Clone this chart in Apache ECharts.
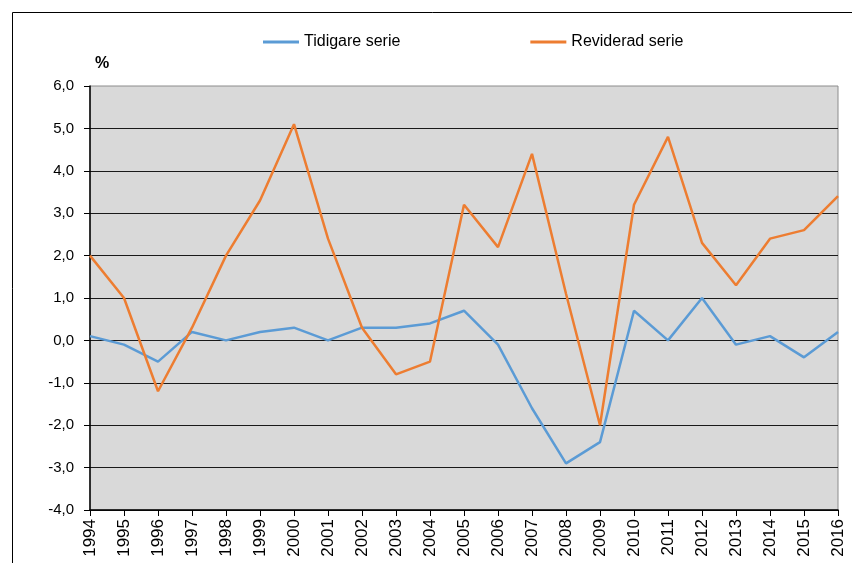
<!DOCTYPE html>
<html style="height: 100%">
   <head>
       <meta charset="utf-8">
   </head>
   <body style="height: 100%; margin: 0">
       <div id="container" style="width: 852px; height: 563px"></div>
       <script type="text/javascript" src="https://cdn.jsdelivr.net/npm/echarts@6/dist/echarts.min.js"></script>
       <script type="text/javascript">
var years = ['1994','1995','1996','1997','1998','1999','2000','2001','2002','2003','2004','2005',
             '2006','2007','2008','2009','2010','2011','2012','2013','2014','2015','2016'];
var tidigare = [0.1, -0.1, -0.5, 0.2, 0.0, 0.2, 0.3, 0.0, 0.3, 0.3, 0.4, 0.7,
                -0.1, -1.6, -2.9, -2.4, 0.7, 0.0, 1.0, -0.1, 0.1, -0.4, 0.2];
var reviderad = [2.0, 1.0, -1.2, 0.3, 2.0, 3.3, 5.1, 2.4, 0.3, -0.8, -0.5, 3.2,
                 2.2, 4.4, 1.1, -2.0, 3.2, 4.8, 2.3, 1.3, 2.4, 2.6, 3.4];

var dom = document.getElementById("container");
var myChart = echarts.init(dom);

var font = 'Liberation Sans, Arial, sans-serif';

option = {
    animation: false,
    backgroundColor: '#fff',
    textStyle: { fontFamily: font },
    graphic: [
        {
            type: 'rect',
            shape: { x: 12.5, y: 12.5, width: 900, height: 600 },
            style: { fill: 'none', stroke: '#000', lineWidth: 1 },
            silent: true
        },
        {
            type: 'text',
            left: 95, top: 56,
            style: { text: '%', font: 'bold 16px ' + font, fill: '#000' }
        }
    ],
    legend: {
        top: 29,
        left: 258,
        itemGap: 130,
        itemWidth: 36,
        itemHeight: 3,
        icon: 'rect',
        textStyle: { fontSize: 16, color: '#000', fontFamily: font },
        data: ['Tidigare serie', 'Reviderad serie']
    },
    grid: {
        left: 90, right: 14, top: 86, bottom: 53,
        show: true,
        backgroundColor: '#d9d9d9',
        borderColor: '#8c8c8c',
        borderWidth: 1
    },
    xAxis: {
        type: 'category',
        data: years,
        boundaryGap: false,
        axisLine: { onZero: false, lineStyle: { color: '#000', width: 1.5 } },
        axisTick: { show: true, length: 6, alignWithLabel: true, lineStyle: { color: '#000' } },
        axisLabel: { rotate: 90, fontSize: 17, color: '#000', fontFamily: font, margin: 9 },
        splitLine: { show: false }
    },
    yAxis: {
        type: 'value',
        min: -4, max: 6, interval: 1,
        axisLine: { show: true, lineStyle: { color: '#000', width: 1.5 } },
        axisTick: { show: true, length: 6, lineStyle: { color: '#000' } },
        axisLabel: {
            fontSize: 15, color: '#000', fontFamily: font, margin: 16,
            formatter: function (v) { return v.toFixed(1).replace('.', ','); }
        },
        splitLine: { show: true, showMaxLine: false, lineStyle: { color: '#1a1a1a', width: 1.2 } }
    },
    series: [
        {
            name: 'Tidigare serie',
            type: 'line',
            data: tidigare,
            showSymbol: false,
            symbol: 'none',
            color: '#5B9BD5',
            lineStyle: { width: 2.5, color: '#5B9BD5' }
        },
        {
            name: 'Reviderad serie',
            type: 'line',
            data: reviderad,
            showSymbol: false,
            symbol: 'none',
            color: '#ED7D31',
            lineStyle: { width: 2.5, color: '#ED7D31' }
        }
    ]
};

if (option && typeof option === "object") {
    myChart.setOption(option, true);
}
</script>
   </body>
</html>
